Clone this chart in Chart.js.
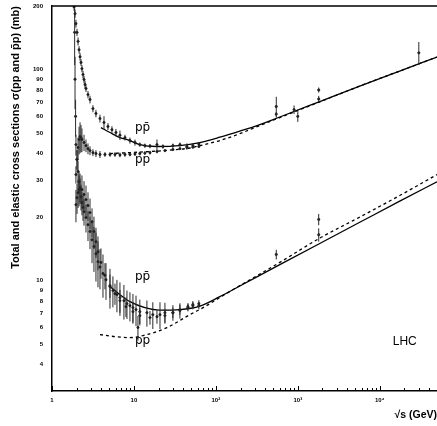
<!DOCTYPE html>
<html><head><meta charset="utf-8">
<script src="https://cdn.jsdelivr.net/npm/chart.js@4/dist/chart.umd.min.js"></script>
<style>html,body{margin:0;padding:0;background:#fff;}canvas{display:block;}</style>
</head><body>
<canvas id="c" width="437" height="426"></canvas>
<script>
// ---- axis ticks ----
const xTickValues = [1, 10, 100, 1000, 10000];
const xTickLabels = ['1', '10', '10²', '10³', '10⁴'];
const yTickValues = [4, 5, 6, 7, 8, 9, 10, 20, 30, 40, 50, 60, 70, 80, 90, 100, 200];
const yTickLabels = ['4', '5', '6', '7', '8', '9', '10', '20', '30', '40', '50', '60', '70', '80', '90', '100', '200'];

// ---- fits (sqrt s in GeV, sigma in mb) ----
const fitPbarPTotS = [3.96, 5.1, 6.75, 8.94, 11.8, 19.1, 36.4, 63.8, 111.9, 196, 344, 603, 1854, 5704, 17540, 50000];
const fitPbarPTotV = [53.1, 50.3, 47.6, 46.1, 44.1, 43.2, 43.6, 45.1, 47.8, 51.1, 54.9, 59.6, 70.5, 83.5, 98.4, 114.6];
const fitPPTotS = [5.1, 8.94, 15.7, 27.5, 48.2, 63.8, 111.9, 196, 344, 603, 1854, 5704, 17540, 50000];
const fitPPTotV = [40.0, 40.4, 40.9, 41.5, 42.5, 43.6, 46.1, 49.7, 54.3, 59.2, 70.3, 83.5, 98.4, 114.6];
const fitPbarPElS = [5.1, 6.75, 8.94, 13.6, 20.8, 36.4, 63.8, 111.9, 196, 603, 1854, 5704, 17540, 50000];
const fitPbarPElV = [9.37, 8.58, 7.95, 7.45, 7.25, 7.29, 7.57, 8.40, 9.43, 11.9, 15.0, 18.9, 23.8, 29.4];
const fitPPElS = [3.85, 5.87, 8.94, 14.4, 25.3, 48.2, 73.4, 121.7, 196, 603, 1854, 5704, 17540, 50000];
const fitPPElV = [5.55, 5.43, 5.37, 5.55, 5.99, 6.90, 7.53, 8.49, 9.47, 12.2, 15.9, 20.0, 25.3, 31.8];

// ---- measurements ----
const pbarPTotS = [1.86, 1.91, 1.96, 2.02, 2.08, 2.14, 2.20, 2.26, 2.32, 2.39, 2.46, 2.53, 2.60, 2.75, 2.91, 3.16, 3.44, 3.85, 4.31, 4.82, 5.39, 6.03, 6.75, 7.77, 8.94, 10.3, 11.8, 13.6, 15.7, 19.1, 22.6, 29.9, 36.4, 44.3, 52.4, 62.0, 546, 546, 900, 1000, 1800, 1800];
const pbarPTotV = [198, 184, 165, 150, 136, 124, 115, 108, 101, 94.7, 89.7, 84.9, 81.3, 76.1, 72.1, 65.3, 61.9, 58.6, 56.1, 53.7, 51.9, 50.3, 48.9, 47.6, 46.1, 45.1, 44.1, 43.6, 43.4, 44.1, 43.2, 43.6, 44.1, 43.2, 43.6, 44.4, 66.8, 61.5, 64.6, 60.0, 80.0, 72.5];
const pbarPTotE = [8, 8, 7, 6, 6, 5, 5, 4, 4, 4, 3.5, 3.5, 3, 3, 3, 2.5, 2.5, 2.5, 4, 2, 2, 2, 2.5, 1.5, 1.5, 1.5, 1, 1, 1, 2.5, 1, 1, 1, 1.5, 1, 1, 7.5, 1.5, 3.0, 3.5, 2.2, 2.5];

const ppTotS = [1.96, 2.02, 2.08, 2.14, 2.20, 2.26, 2.32, 2.46, 2.60, 2.75, 2.91, 3.16, 3.44, 3.85, 4.43, 5.10, 5.87, 6.75, 7.77, 8.94, 10.3, 11.8, 13.6, 15.7, 19.1, 23.9, 29.9, 36.4, 44.3, 52.4, 62.0, 30000];
const ppTotV = [31.8, 37.5, 42.7, 46.6, 48.2, 47.6, 46.6, 45.1, 43.6, 42.2, 41.3, 40.4, 40.0, 39.6, 39.6, 39.6, 39.6, 39.4, 39.6, 39.6, 39.8, 40.0, 40.2, 40.4, 40.9, 41.3, 41.8, 42.2, 42.7, 42.9, 43.2, 120];
const ppTotE = [3, 4, 5, 7, 8, 7, 6, 4, 3, 2.5, 2, 1.5, 1.5, 1.5, 1, 1, 1, 1, 1, 0.8, 0.8, 0.8, 0.8, 0.8, 0.8, 0.6, 0.6, 0.6, 0.6, 0.6, 0.6, 15];

const pbarPElS = [1.89, 1.91, 1.94, 1.96, 2.02, 2.08, 2.14, 2.20, 2.26, 2.32, 2.39, 2.46, 2.60, 2.75, 2.91, 3.08, 3.25, 3.44, 3.64, 3.85, 4.19, 4.56, 5.10, 5.54, 6.20, 6.75, 7.55, 8.22, 8.94, 9.72, 10.6, 11.8, 14.4, 17.0, 20.8, 23.9, 29.9, 36.4, 45.6, 52.4, 62.0, 546, 1800, 1800];
const pbarPElV = [150, 90, 60, 44.1, 37.5, 32.9, 29.4, 27.0, 25.0, 23.4, 22.2, 21.2, 19.9, 18.4, 17.1, 15.6, 14.5, 13.4, 12.3, 11.6, 10.8, 10.1, 9.37, 8.97, 8.58, 8.31, 8.04, 7.78, 7.61, 7.45, 7.29, 7.13, 7.05, 6.90, 6.90, 7.05, 7.05, 7.21, 7.53, 7.70, 7.78, 13.3, 19.5, 16.5];
const pbarPElE = [45, 25, 12, 5, 4, 4, 3.5, 3.5, 3.5, 3, 3, 3, 3, 3, 3, 3.5, 3.5, 3.5, 3, 2.5, 2.5, 2, 2, 1.5, 1.5, 1.5, 1.5, 1.2, 1.2, 1.2, 1.2, 1, 1, 1, 1, 0.8, 0.6, 0.6, 0.3, 0.3, 0.3, 0.7, 1.2, 1.2];

const ppElS = [1.96, 2.02, 2.08, 2.14, 2.20, 2.32, 2.46, 2.60, 2.75, 2.91, 3.08, 3.25, 3.44, 3.64, 3.96, 4.43, 5.10, 5.87, 6.75, 7.99, 9.72, 11.8, 15.7, 19.1, 23.9, 29.9, 36.4, 45.6, 52.4, 62.0, 11.2];
const ppElV = [22.9, 24.7, 26.1, 27.0, 27.6, 27.0, 25.6, 24.2, 22.7, 21.0, 19.0, 17.1, 15.3, 13.7, 12.2, 10.6, 9.47, 8.68, 8.04, 7.53, 7.13, 6.83, 6.68, 6.75, 6.83, 7.05, 7.29, 7.45, 7.61, 7.61, 6.0];
const ppElE = [4, 4, 4, 4.5, 4.5, 4.5, 4, 4, 3.5, 3.5, 3, 3, 2.5, 2.5, 2, 1.5, 1.2, 1, 1, 0.8, 0.8, 0.6, 0.5, 0.5, 0.5, 0.4, 0.4, 0.3, 0.3, 0.3, 0.8];

// ---- annotations ----
const noteTexts = ['pp\u0304', 'pp', 'pp\u0304', 'pp', 'LHC'];
const noteS = [10.3, 10.3, 10.3, 10.3, 14400];
const noteV = [51.0, 36.2, 10.1, 5.0, 4.97];

const pts = (xs, ys) => xs.map((x, i) => ({x, y: ys[i]}));
const errSeg = (xs, ys, es) => {
  const out = [];
  xs.forEach((x, i) => { out.push({x, y: ys[i] - es[i]}, {x, y: ys[i] + es[i]}, {x, y: null}); });
  return out;
};

const allS = [].concat(pbarPTotS, ppTotS, pbarPElS, ppElS);
const allV = [].concat(pbarPTotV, ppTotV, pbarPElV, ppElV);
const allE = [].concat(pbarPTotE, ppTotE, pbarPElE, ppElE);

const fitStyle = {showLine: true, pointRadius: 0, borderColor: '#000', borderWidth: 1.3, cubicInterpolationMode: 'monotone', fill: false};
const dataStyle = {showLine: false, pointRadius: 1.2, pointBackgroundColor: '#111', pointBorderColor: '#111', pointBorderWidth: 0.5};

const decorPlugin = {
  id: 'decor',
  afterDraw(chart) {
    const {ctx, chartArea: a, scales: {x, y}} = chart;
    ctx.save();
    ctx.strokeStyle = '#000';
    ctx.lineWidth = 1.5;
    ctx.beginPath(); ctx.moveTo(a.left, a.top); ctx.lineTo(a.right, a.top); ctx.stroke();
    ctx.lineWidth = 1;
    for (let d = 0; d <= 4; d++) {
      for (let k = 1; k <= 9; k++) {
        const v = k * Math.pow(10, d);
        if (v > x.max) continue;
        const px = Math.round(x.getPixelForValue(v)) + 0.5;
        const len = k === 1 ? 5 : 3;
        ctx.beginPath(); ctx.moveTo(px, a.bottom); ctx.lineTo(px, a.bottom - len); ctx.stroke();
      }
    }
    ctx.fillStyle = '#000';
    ctx.textAlign = 'left';
    ctx.textBaseline = 'alphabetic';
    noteTexts.forEach((t, i) => {
      ctx.font = t === 'LHC' ? '12px "Liberation Sans", Arial, sans-serif' : '12px "DejaVu Sans", sans-serif';
      ctx.fillText(t, x.getPixelForValue(noteS[i]), y.getPixelForValue(noteV[i]));
    });
    ctx.restore();
  }
};

new Chart(document.getElementById('c'), {
  type: 'scatter',
  data: {
    datasets: [
      {data: errSeg(allS, allV, allE), showLine: true, pointRadius: 0, borderColor: '#2a2a2a', borderWidth: 1, spanGaps: false},
      Object.assign({data: pts(pbarPTotS, pbarPTotV)}, dataStyle),
      Object.assign({data: pts(ppTotS, ppTotV)}, dataStyle),
      Object.assign({data: pts(pbarPElS, pbarPElV)}, dataStyle),
      Object.assign({data: pts(ppElS, ppElV)}, dataStyle),
      Object.assign({data: pts(fitPbarPTotS, fitPbarPTotV)}, fitStyle),
      Object.assign({data: pts(fitPPTotS, fitPPTotV), borderDash: [3, 3]}, fitStyle),
      Object.assign({data: pts(fitPbarPElS, fitPbarPElV)}, fitStyle),
      Object.assign({data: pts(fitPPElS, fitPPElV), borderDash: [3, 3]}, fitStyle)
    ]
  },
  options: {
    responsive: false,
    devicePixelRatio: 1,
    animation: false,
    events: [],
    layout: {autoPadding: false, padding: {top: 6, right: 0, left: 0, bottom: 0}},
    plugins: {legend: {display: false}, tooltip: {enabled: false}},
    scales: {
      x: {
        type: 'logarithmic', position: 'bottom', min: 1, max: 50000,
        afterBuildTicks: s => { s.ticks = xTickValues.map(v => ({value: v})); },
        afterFit: s => { s.height = 35; s.paddingLeft = 0; s.paddingRight = 0; },
        grid: {display: false, drawTicks: false},
        border: {display: true, color: '#000', width: 1.5},
        ticks: {
          autoSkip: false, maxRotation: 0, padding: 6, color: '#000',
          font: {family: '"Liberation Sans", Arial, sans-serif', size: 6, weight: 'bold'},
          callback: (v, i) => xTickLabels[i]
        },
        title: {display: true, text: '√s (GeV)', align: 'end', color: '#000',
          font: {family: '"Liberation Sans", Arial, sans-serif', size: 10.5, weight: 'bold'},
          padding: {top: 0, bottom: 5}}
      },
      y: {
        type: 'logarithmic', position: 'left', min: 3, max: 200,
        afterBuildTicks: s => { s.ticks = yTickValues.map(v => ({value: v})); },
        afterFit: s => { s.width = 52; s.paddingTop = 0; s.paddingBottom = 0; },
        grid: {display: false, drawTicks: false},
        border: {display: true, color: '#000', width: 1.5},
        ticks: {
          autoSkip: false, padding: 9, color: '#000',
          font: {family: '"Liberation Sans", Arial, sans-serif', size: 6, weight: 'bold'},
          callback: (v, i) => yTickLabels[i]
        },
        title: {display: true, text: 'Total and elastic cross sections σ(pp and p\u0304p) (mb)', align: 'end', color: '#000',
          font: {family: '"Liberation Sans", Arial, sans-serif', size: 11, weight: 'bold'},
          padding: {top: 9, bottom: 0}}
      }
    }
  },
  plugins: [decorPlugin]
});
</script>
</body></html>
